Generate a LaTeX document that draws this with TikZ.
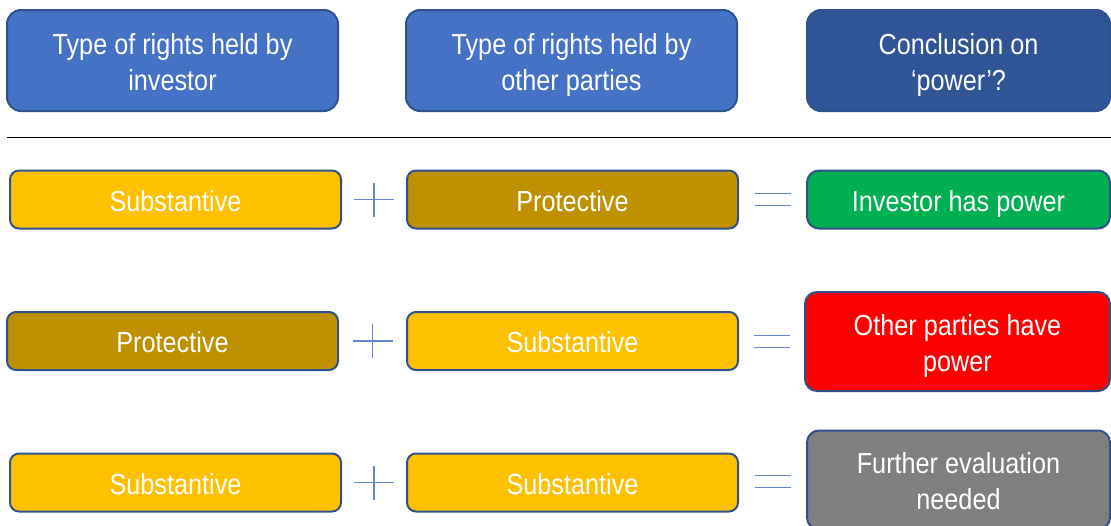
\documentclass[tikz,border=0pt]{standalone}
\usepackage{fontspec}
\setmainfont{Liberation Sans}[FakeStretch=0.87]
\usetikzlibrary{%
  positioning,% wg. " of "
  calc%
}
\definecolor{hdrblue}{HTML}{4472C4}
\definecolor{hdrdark}{HTML}{2F5597}
\definecolor{edgeblue}{HTML}{2F528F}
\definecolor{subst}{HTML}{FFC000}
\definecolor{protect}{HTML}{BF9000}
\definecolor{okgreen}{HTML}{00B050}
\definecolor{nored}{HTML}{FF0000}
\definecolor{evalgray}{HTML}{7F7F7F}

\begin{document}
\begin{tikzpicture}[
    x=1pt,y=-1pt,
    line join=round,
    box/.style={rectangle,draw=edgeblue,line width=2pt,text=white,
        font=\fontsize{29}{36}\selectfont,align=center,inner sep=0pt,
        text height=31pt,text depth=8pt},
    twoline/.style={text height=67.5pt,text depth=8pt},
    header/.style={box,twoline,rounded corners=14pt,minimum width=331pt,minimum height=101pt},
    rightsbox/.style={box,rounded corners=9pt,minimum width=331pt,minimum height=58pt},
    concl/.style={box,rounded corners=12pt,minimum width=303pt,minimum height=58pt},
    sign/.style={draw=hdrblue!85,line width=1.3pt},
    node distance=66pt
  ]
    \useasboundingbox (0,0) rectangle (1111,525);

    % headings
    \node [header,fill=hdrblue] (hinv)  at (172.5,60.5) {Type of rights held by\\investor};
    \node [header,fill=hdrblue,right=of hinv] (hoth) {Type of rights held by\\other parties};
    \node [header,fill=hdrdark,minimum width=303pt] (hcon) at (958.5,60.5) {Conclusion on\\‘power’?};
    \draw [line width=1pt] (7,137) -- (1111,137);

    % rows
    \node [rightsbox,fill=subst]   (inv1) at (175.5,199.5) {Substantive};
    \node [rightsbox,fill=protect] (oth1) at (572.5,199.5) {Protective};
    \node [concl,fill=okgreen]     (con1) at (958.5,199.5) {Investor has power};

    \node [rightsbox,fill=protect] (inv2) at (172.5,341) {Protective};
    \node [rightsbox,fill=subst]   (oth2) at (572.5,341) {Substantive};
    \node [concl,twoline,fill=nored,minimum height=99pt,minimum width=305pt] (con2) at (957.5,341.5) {Other parties have\\power};

    \node [rightsbox,fill=subst]   (inv3) at (175.5,482.5) {Substantive};
    \node [rightsbox,fill=subst]   (oth3) at (572.5,482.5) {Substantive};
    \node [concl,twoline,fill=evalgray,minimum height=99pt] (con3) at (958.5,480) {Further evaluation\\needed};

    % plus and equals signs
    \foreach \r in {1,2,3} {
        \coordinate (plus\r) at ($(inv\r.east)!0.5!(oth\r.west)$);
        \coordinate (eq\r) at ($(oth\r.east)!0.5!(con\r.west)$);
        \draw [sign] ([xshift=-20pt]plus\r) -- ([xshift=20pt]plus\r);
        \draw [sign] ([yshift=-17pt]plus\r) -- ([yshift=17pt]plus\r);
        \draw [sign] ([xshift=-18pt,yshift=-6pt]eq\r) -- ([xshift=18pt,yshift=-6pt]eq\r);
        \draw [sign] ([xshift=-18pt,yshift=6pt]eq\r) -- ([xshift=18pt,yshift=6pt]eq\r);
    }
\end{tikzpicture}
\end{document}
